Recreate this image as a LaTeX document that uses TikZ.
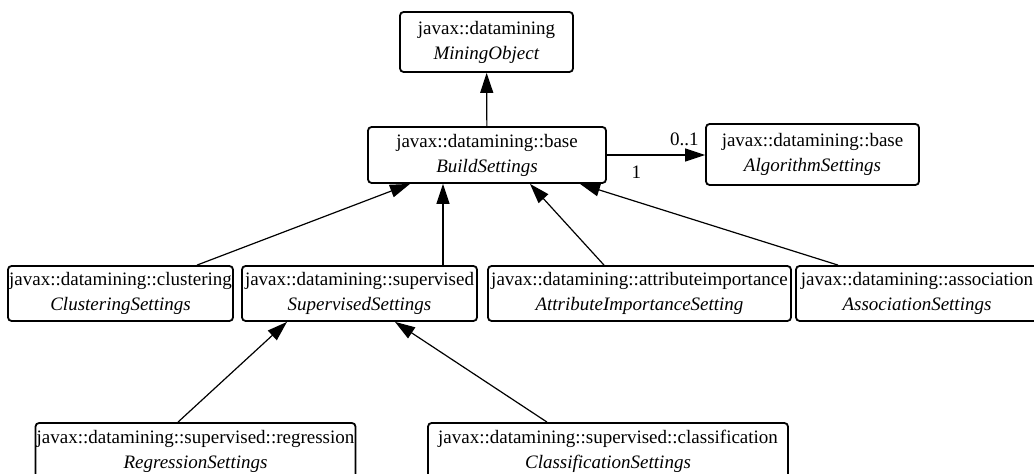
\documentclass[tikz,border=0pt]{standalone}
\usepackage{fontspec}
\setmainfont{Liberation Serif}
\usetikzlibrary{arrows.meta,calc}

\begin{document}
\begin{tikzpicture}[x=0.5pt, y=-0.5pt,
  every node/.style={font=\fontsize{9.5}{12.5}\selectfont}]
\tikzset{cls/.style={draw, rounded corners=1.8pt, line width=0.9pt, align=center, inner sep=0pt, minimum height=28pt},
  gen/.style={-{Triangle[length=10pt,width=6.5pt]}, line width=0.6pt}}
\clip (0,0) rectangle (1034,474);
% top
\node[cls, minimum width=86.5pt, minimum height=30pt] (mining) at (486.5,42) {javax::datamining\\ \textit{MiningObject}};
\node[cls, minimum width=119pt] (build) at (487,155) {javax::datamining::base\\ \textit{BuildSettings}};
\node[cls, minimum width=106.5pt, minimum height=30.5pt] (algo) at (812.5,154.5) {javax::datamining::base\\ \textit{AlgorithmSettings}};
% second row
\node[cls, minimum width=112.5pt, minimum height=27.5pt] (clust) at (120.5,293.5) {javax::datamining::clustering\\ \textit{ClusteringSettings}};
\node[cls, minimum width=117.5pt, minimum height=27.5pt] (superv) at (359.5,293.5) {javax::datamining::supervised\\ \textit{SupervisedSettings}};
\node[cls, minimum width=151.5pt, minimum height=27.5pt] (attr) at (639.5,293.5) {javax::datamining::attributeimportance\\ \textit{AttributeImportanceSetting}};
\node[cls, minimum width=121pt, minimum height=27.5pt] (assoc) at (917,293.5) {javax::datamining::association\\ \textit{AssociationSettings}};
% bottom row
\node[cls, minimum width=160pt] (regr) at (195.5,451) {javax::datamining::supervised::regression\\ \textit{RegressionSettings}};
\node[cls, minimum width=180pt] (classif) at (608,451) {javax::datamining::supervised::classification\\ \textit{ClassificationSettings}};
% generalizations
\draw[gen] (build) -- (mining);
\draw[gen] ($(clust.north)+(76.5,0)$) -- ($(build.south)+(-77,0)$);
\draw[gen] ($(superv.north)+(83.5,0)$) -- ($(build.south)+(-44,0)$);
\draw[gen] ($(attr.north)+(-35.5,0)$) -- ($(build.south)+(43,0)$);
\draw[gen] ($(assoc.north)+(-79,0)$) -- ($(build.south)+(93,0)$);
\draw[gen] ($(regr.north)+(-17.5,0)$) -- ($(superv.south)+(-72.5,0)$);
\draw[gen] ($(classif.north)+(-61,0)$) -- ($(superv.south)+(35.5,0)$);
% association
\draw[gen] (build.east) -- (build.east -| algo.west)
  node[pos=0.79, above=1pt] {0..1}
  node[pos=0.3, below=2pt] {1};
\end{tikzpicture}
\end{document}
